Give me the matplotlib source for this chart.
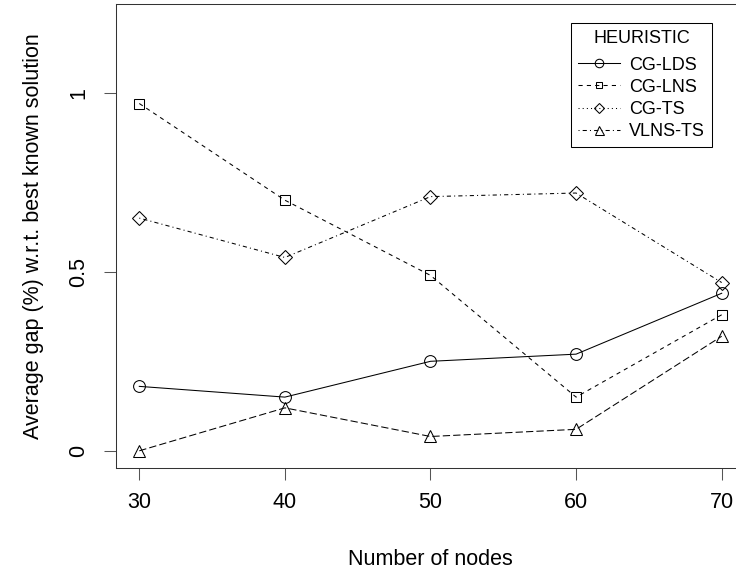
import matplotlib
matplotlib.use("Agg")
import matplotlib.pyplot as plt
from matplotlib.lines import Line2D

plt.rcParams["font.family"] = ["Liberation Sans", "DejaVu Sans"]

# values
nodes = [30, 40, 50, 60, 70]
heuristics = ["CG-LDS", "CG-LNS", "CG-TS", "VLNS-TS"]
gap_cg_lds = [0.18, 0.15, 0.25, 0.27, 0.44]
gap_cg_lns = [0.97, 0.70, 0.49, 0.15, 0.38]
gap_cg_ts = [0.65, 0.54, 0.71, 0.72, 0.47]
gap_vlns_ts = [0.00, 0.12, 0.04, 0.06, 0.32]
y_ticks = [0, 0.5, 1]
y_ticklabels = ["0", "0.5", "1"]

series = [gap_cg_lds, gap_cg_lns, gap_cg_ts, gap_vlns_ts]
markers = ["o", "s", "D", "^"]
msizes = [8.5, 6.5, 7.0, 9.0]
# line styles as drawn in the plot area (R lty 1, 2, 4, 5)
plot_dashes = [None, (4, 4), (1, 3, 4, 3), (7, 3)]
# the legend shows R lty 1..4
legend_dashes = [None, (4, 4), (1, 3), (1, 3, 4, 3)]

LW = 0.75
fig = plt.figure(figsize=(7.36, 5.77), dpi=100)
ax = fig.add_axes([0.1576, 0.1889, 0.8546, 0.8042])

for vals, m, ms, d in zip(series, markers, msizes, plot_dashes):
    line, = ax.plot(nodes, vals, color="black", lw=LW, marker=m, ms=ms,
                    mfc="none", mec="black", mew=LW)
    if d is not None:
        line.set_dashes(d)

ax.set_xlim(28.4, 71.6)
ax.set_ylim(-0.048, 1.248)
ax.set_xticks(nodes)
ax.set_xticklabels([str(n) for n in nodes])
ax.set_yticks(y_ticks)
ax.set_yticklabels(y_ticklabels, rotation=90, va="center")
ax.tick_params(axis="both", length=8.5, width=LW, color="#555555",
               labelsize=15.5, direction="out")
ax.tick_params(axis="x", pad=9)
ax.tick_params(axis="y", pad=11)
for s in ax.spines.values():
    s.set_linewidth(LW)
    s.set_color("#333333")

ax.set_xlabel("Number of nodes", fontsize=15.5, labelpad=26)
ax.set_ylabel("Average gap (%) w.r.t. best known solution", fontsize=15.5, labelpad=17)

handles = []
for m, ms, d in zip(markers, msizes, legend_dashes):
    h = Line2D([], [], color="black", lw=LW, marker=m, ms=ms * 0.72,
               mfc="none", mec="black", mew=LW)
    if d is not None:
        h.set_dashes(d)
    handles.append(h)

leg = ax.legend(handles, heuristics, title="HEURISTIC", loc="upper left",
                bbox_to_anchor=(0.7234, 0.9595), borderaxespad=0,
                fontsize=13, title_fontsize=13, fancybox=False,
                framealpha=1, edgecolor="black", handlelength=2.3,
                labelspacing=0.28, borderpad=0.4, handletextpad=0.5)
leg.get_frame().set_linewidth(LW)
leg._legend_box.sep = 7

fig.savefig("out.png", dpi=100)
